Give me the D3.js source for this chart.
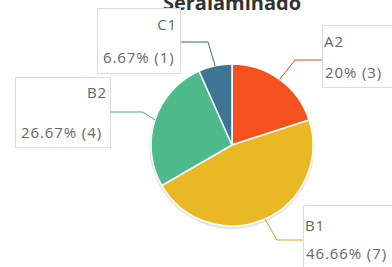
<!DOCTYPE html>
<html>
<head>
<meta charset="utf-8">
<style>
  body { margin: 0; background: #fff; }
  svg { display: block; }
</style>
</head>
<body>
<svg width="392" height="267"></svg>
<script src="https://d3js.org/d3.v7.min.js"></script>
<script>
	// slice data, clockwise from 12 o'clock
	const categories = ["A2", "B1", "B2", "C1"]
	const counts = [3, 7, 4, 1]
	const pctLabels = ["20%", "46.66%", "26.67%", "6.67%"]
	const colors = ["#f4511e", "#e8b925", "#4dba8b", "#3e7592"]
	const title = "Seralaminado"

	const width = 392, height = 267
	const cx = 232, cy = 145, r = 81

	const svg = d3.select("svg")
		.attr("font-family", "'Open Sans', sans-serif")

	svg.append("text")
		.attr("x", cx)
		.attr("y", 10)
		.attr("text-anchor", "middle")
		.attr("font-size", 20)
		.attr("font-weight", "bold")
		.attr("fill", "#333")
		.text(title)

	const data = categories.map((c, i) => ({name: c, value: counts[i], pct: pctLabels[i], color: colors[i]}))

	const pie = d3.pie().sort(null).value(d => d.value)
	const arcs = pie(data)
	const arc = d3.arc().innerRadius(0).outerRadius(r)

	const g = svg.append("g").attr("transform", `translate(${cx},${cy})`)

	// soft shadow ring
	g.append("circle")
		.attr("r", r + 1.5)
		.attr("cy", 1.5)
		.attr("fill", "#e4e4e4")

	g.selectAll("path")
		.data(arcs)
		.join("path")
			.attr("d", arc)
			.attr("fill", d => d.data.color)
			.attr("stroke", "#fff")
			.attr("stroke-width", 1.5)

	// label box layout
	const boxes = {
		A2: {x: 322, y: 25, w: 90, h: 62, align: "start", t1: 47, t2: 78, ex: 295, ey: 60, side: "left"},
		B1: {x: 303, y: 205, w: 100, h: 70, align: "start", t1: 231, t2: 259, ex: 277, ey: 240, side: "left"},
		B2: {x: 15, y: 77, w: 95, h: 70, align: "end", t1: 98, t2: 138, ex: 143, ey: 112, side: "right"},
		C1: {x: 97, y: 8, w: 83, h: 65, align: "end", t1: 30, t2: 63, ex: 208, ey: 42, side: "right"}
	}

	const edge = d3.arc().innerRadius(r).outerRadius(r)

	arcs.forEach((a, i) => {
		const b = boxes[a.data.name]
		const [px, py] = edge.centroid(a)
		const x0 = cx + px, y0 = cy + py
		const bx = b.side === "left" ? b.x : b.x + b.w
		svg.append("path")
			.attr("d", d3.line()([[x0, y0], [b.ex, b.ey], [bx, b.ey]]))
			.attr("fill", "none")
			.attr("stroke", d3.color(a.data.color).darker(0.3))
			.attr("stroke-width", 1)

		svg.append("clipPath")
			.attr("id", "clip" + i)
			.append("rect")
				.attr("x", b.x).attr("y", b.y)
				.attr("width", b.w - 3).attr("height", b.h)

		const lg = svg.append("g")
		lg.append("rect")
			.attr("x", b.x + 0.5).attr("y", b.y + 0.5)
			.attr("width", b.w).attr("height", b.h)
			.attr("fill", "#fff")
			.attr("stroke", "#ddd")
		const tg = lg.append("g")
			.attr("clip-path", `url(#clip${i})`)
			.attr("font-size", 15)
			.attr("fill", "#666")
			.attr("letter-spacing", 0.9)
		tg.append("text")
			.attr("x", b.align === "end" ? b.x + b.w - 3 : b.x + 2)
			.attr("y", b.t1)
			.attr("text-anchor", b.align)
			.text(a.data.name)
		tg.append("text")
			.attr("x", b.align === "end" ? b.x + 6 : b.x + 3)
			.attr("y", b.t2)
			.text(`${a.data.pct} (${a.data.value})`)
	})
</script>
</body>
</html>
